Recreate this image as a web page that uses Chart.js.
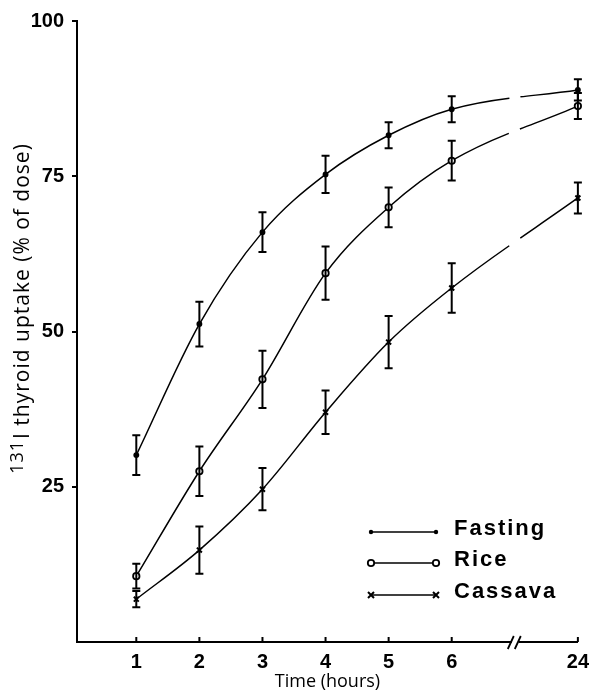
<!DOCTYPE html>
<html lang="en">
<head>
<meta charset="UTF-8">
<title>Thyroid uptake</title>
<script src="https://cdn.jsdelivr.net/npm/chart.js"></script>
<style>
    html, body { margin: 0; padding: 0; background: #fff; }
    #grafico { display: block; }
</style>
</head>
<body>
<canvas id="grafico" width="589" height="693"></canvas>

<script>
// sampling times in hours (24 h sits after the break on the x axis)
var hours = [1, 2, 3, 4, 5, 6, 24];

// mean uptake, % of dose
var fasting = [30.1, 51.2, 66.0, 75.3, 81.6, 85.8, 88.9];
var rice = [10.6, 27.5, 42.3, 59.4, 70.0, 77.5, 86.3];
var cassava = [6.9, 14.8, 24.6, 37.0, 48.3, 57.0, 71.5];

// error bar half lengths
var fastingErr = [3.2, 3.6, 3.2, 3.0, 2.1, 2.1, 1.7];
var riceErr = [2.0, 4.0, 4.6, 4.3, 3.2, 3.2, 2.1];
var cassavaErr = [1.3, 3.8, 3.4, 3.5, 4.2, 4.0, 2.5];

var seriesNames = ['Fasting', 'Rice', 'Cassava'];
var yTicks = [25, 50, 75, 100];
var yTitle = ['131', 'I thyroid uptake (% of dose)'];
var xTitle = 'Time (hours)';

// broken axis: 24 h is drawn two units after 6 h
function axisPos(h) {
    return h <= 6 ? h : h - 16;
}
var breakAt = 7;

function pontos(vals) {
    return hours.map(function (h, i) { return { x: axisPos(h), y: vals[i] }; });
}

// the curve segment crossing the axis break gets a small gap
function gapNaQuebra(ctx) {
    if (ctx.p1DataIndex !== hours.length - 1) return undefined;
    var xs = ctx.chart.scales.x;
    var bx = xs.getPixelForValue(breakAt);
    var p0 = ctx.p0, p1 = ctx.p1;
    var s = (p1.y - p0.y) / (p1.x - p0.x);
    var k = Math.sqrt(1 + s * s);
    return [(bx - 5 - p0.x) * k, 11 * k, 4000];
}

function marcador(ctx, estilo, x, y) {
    ctx.save();
    ctx.strokeStyle = '#000';
    ctx.fillStyle = '#000';
    if (estilo === 'dot') {
        ctx.beginPath();
        ctx.arc(x, y, 2.2, 0, Math.PI * 2);
        ctx.fill();
    } else if (estilo === 'ring') {
        ctx.lineWidth = 1.8;
        ctx.fillStyle = '#fff';
        ctx.beginPath();
        ctx.arc(x, y, 3.2, 0, Math.PI * 2);
        ctx.fill();
        ctx.stroke();
    } else {
        ctx.lineWidth = 2;
        ctx.beginPath();
        ctx.moveTo(x - 3, y - 3); ctx.lineTo(x + 3, y + 3);
        ctx.moveTo(x + 3, y - 3); ctx.lineTo(x - 3, y + 3);
        ctx.stroke();
    }
    ctx.restore();
}

var estilos = ['dot', 'ring', 'cross'];
var erros = [fastingErr, riceErr, cassavaErr];

// error bars, inward x ticks, axis break, y title and legend
var extras = {
    id: 'extras',
    afterDatasetsDraw: function (chart) {
        var ctx = chart.ctx;
        var xs = chart.scales.x, ys = chart.scales.y;
        ctx.save();
        ctx.strokeStyle = '#000';
        ctx.lineWidth = 2;
        chart.data.datasets.forEach(function (ds, d) {
            ds.data.forEach(function (p, i) {
                var e = erros[d][i];
                var x = xs.getPixelForValue(p.x);
                var yt = ys.getPixelForValue(p.y + e);
                var yb = ys.getPixelForValue(p.y - e);
                ctx.beginPath();
                ctx.moveTo(x, yt); ctx.lineTo(x, yb);
                ctx.moveTo(x - 4, yt); ctx.lineTo(x + 4, yt);
                ctx.moveTo(x - 4, yb); ctx.lineTo(x + 4, yb);
                ctx.stroke();
            });
        });
        ctx.restore();
    },
    afterDraw: function (chart) {
        var ctx = chart.ctx;
        var xs = chart.scales.x;
        var area = chart.chartArea;
        var b = area.bottom;
        ctx.save();
        ctx.strokeStyle = '#000';
        ctx.lineWidth = 2;

        // x ticks point up into the plot
        hours.forEach(function (h) {
            var x = xs.getPixelForValue(axisPos(h));
            ctx.beginPath();
            ctx.moveTo(x, b);
            ctx.lineTo(x, b - 5);
            ctx.stroke();
        });

        // break marks on the x axis
        var bx = xs.getPixelForValue(breakAt);
        ctx.fillStyle = '#fff';
        ctx.fillRect(bx - 3, b - 3, 7, 6);
        ctx.lineWidth = 1.8;
        ctx.beginPath();
        ctx.moveTo(bx - 7, b + 7); ctx.lineTo(bx - 1, b - 6);
        ctx.moveTo(bx, b + 7); ctx.lineTo(bx + 6, b - 6);
        ctx.stroke();

        // y axis title with the isotope number raised
        ctx.translate(23, 309);
        ctx.rotate(-Math.PI / 2);
        ctx.fillStyle = '#000';
        ctx.textBaseline = 'middle';
        ctx.letterSpacing = '1px';
        ctx.font = '18px "Open Sans"';
        var w1 = ctx.measureText(yTitle[0]).width;
        ctx.font = '21px "Open Sans"';
        var w2 = ctx.measureText(yTitle[1]).width;
        var x0 = -(w1 + w2) / 2;
        ctx.font = '18px "Open Sans"';
        ctx.fillText(yTitle[0], x0, -5);
        ctx.font = '21px "Open Sans"';
        ctx.fillText(yTitle[1], x0 + w1 + 1, 0);
        ctx.setTransform(1, 0, 0, 1, 0, 0);

        // legend: short line with markers at both ends, then the name
        var linhas = [532, 563, 595];
        ctx.font = 'bold 22px "Liberation Sans"';
        ctx.letterSpacing = '2px';
        ctx.textBaseline = 'alphabetic';
        seriesNames.forEach(function (nome, i) {
            var y = linhas[i];
            ctx.lineWidth = 1.5;
            ctx.beginPath();
            ctx.moveTo(371, y);
            ctx.lineTo(436, y);
            ctx.stroke();
            marcador(ctx, estilos[i], 371, y);
            marcador(ctx, estilos[i], 436, y);
            ctx.fillStyle = '#000';
            ctx.fillText(nome, 454, y + 3);
        });
        ctx.restore();
    }
};

var ctx = document.getElementById('grafico').getContext('2d');

var dados = {
    datasets: [
        {
            label: seriesNames[0],
            data: pontos(fasting),
            pointStyle: 'circle',
            pointRadius: 2.2,
            pointBackgroundColor: '#000'
        },
        {
            label: seriesNames[1],
            data: pontos(rice),
            pointStyle: 'circle',
            pointRadius: 3.2,
            pointBorderWidth: 1.8,
            pointBackgroundColor: '#fff'
        },
        {
            label: seriesNames[2],
            data: pontos(cassava),
            pointStyle: 'crossRot',
            pointRadius: 3.5,
            pointBorderWidth: 2
        }
    ]
};

dados.datasets.forEach(function (ds) {
    ds.borderColor = '#000';
    ds.pointBorderColor = '#000';
    ds.borderWidth = 1.5;
    ds.cubicInterpolationMode = 'monotone';
    ds.clip = false;
    ds.segment = { borderDash: gapNaQuebra };
});

new Chart(ctx, {
    type: 'line',
    data: dados,
    plugins: [extras],
    options: {
        responsive: false,
        animation: false,
        devicePixelRatio: 1,
        layout: { padding: { top: 21, right: 0, bottom: 0, left: 0 } },
        plugins: {
            legend: { display: false },
            tooltip: { enabled: false }
        },
        scales: {
            x: {
                type: 'linear',
                min: 0.06,
                max: axisPos(24),
                afterBuildTicks: function (scale) {
                    scale.ticks = hours.map(function (h) { return { value: axisPos(h) }; });
                },
                afterFit: function (scale) { scale.height = 51; },
                grid: { display: false },
                border: { display: true, color: '#000', width: 2 },
                ticks: {
                    color: '#000',
                    padding: 0,
                    maxRotation: 0,
                    font: { family: 'Liberation Sans', size: 20, weight: 'bold' },
                    callback: function (value) {
                        var i = hours.map(axisPos).indexOf(value);
                        return i >= 0 ? String(hours[i]) : '';
                    }
                },
                title: {
                    display: true,
                    text: xTitle,
                    color: '#000',
                    padding: { top: 0, bottom: 0 },
                    font: { family: 'Open Sans', size: 18 }
                }
            },
            y: {
                min: 0,
                max: 100,
                afterBuildTicks: function (scale) {
                    scale.ticks = yTicks.map(function (v) { return { value: v }; });
                },
                afterFit: function (scale) { scale.width = 77; },
                grid: {
                    drawOnChartArea: false,
                    drawTicks: true,
                    tickLength: 5,
                    lineWidth: 2,
                    color: '#000'
                },
                border: { display: true, color: '#000', width: 2 },
                ticks: {
                    color: '#000',
                    padding: 8,
                    font: { family: 'Liberation Sans', size: 20, weight: 'bold' }
                }
            }
        }
    }
});
</script>
</body>
</html>
